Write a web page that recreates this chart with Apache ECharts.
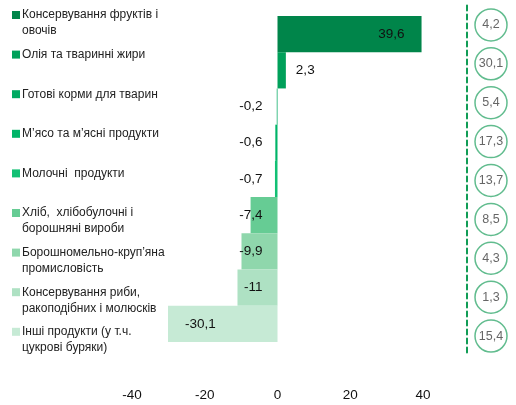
<!DOCTYPE html>
<html>
<head>
<meta charset="utf-8">
<script src="https://cdn.jsdelivr.net/npm/echarts@6/dist/echarts.min.js"></script>
<style>html,body{margin:0;padding:0;background:#fff}#c{width:516px;height:405px}</style>
</head>
<body>
<div id="c"></div>
<script>
const categories = [
  "Консервування фруктів і\nовочів",
  "Олія та тваринні жири",
  "Готові корми для тварин",
  "М’ясо та м’ясні продукти",
  "Молочні  продукти",
  "Хліб,  хлібобулочні і\nборошняні вироби",
  "Борошномельно-круп’яна\nпромисловість",
  "Консервування риби,\nракоподібних і молюсків",
  "Інші продукти (у т.ч.\nцукрові буряки)"
];
const changes = [39.6, 2.3, -0.2, -0.6, -0.7, -7.4, -9.9, -11, -30.1];
const shares = [4.2, 30.1, 5.4, 17.3, 13.7, 8.5, 4.3, 1.3, 15.4];
const xTicks = [-40, -20, 0, 20, 40];

const colors = ['#00854a','#00a05a','#00aa62','#00b468','#12c074','#66cc94','#8fd7ac','#aee1c3','#c6ead5'];
const labelPos = [
  {position:'insideRight', distance:17},
  {position:'right', distance:10},
  {position:'insideRight', distance:15},
  {position:'insideRight', distance:15},
  {position:'insideRight', distance:15},
  {position:'insideRight', distance:15},
  {position:'insideRight', distance:15},
  {position:'insideRight', distance:15},
  {position:'insideLeft', distance:17}
];
const fmt = v => String(v).replace('.', ',');
const FONT = 'Liberation Sans';

const rich = {t:{fontSize:12, fontFamily:FONT, color:'#222', lineHeight:16}, ind:{width:10, height:8, lineHeight:16}, g:{width:2, lineHeight:16}};
colors.forEach((c,i)=>{ rich['s'+i] = {width:8, height:8, backgroundColor:c, lineHeight:16, verticalAlign:'middle'}; });

const series = categories.map((name, i) => ({
  name: name,
  type: 'bar',
  stack: 'all',
  xAxisIndex: 0, yAxisIndex: 0,
  barCategoryGap: '0%',
  itemStyle: {color: colors[i]},
  label: {show:true, position: labelPos[i].position, distance: labelPos[i].distance,
    fontFamily: FONT, fontSize: 13.5, color:'#111', formatter: p => fmt(p.value)},
  data: changes.map((v, j) => j === i ? v : '-')
}));

series.push({
  type: 'scatter',
  xAxisIndex: 1, yAxisIndex: 1,
  symbol: 'circle',
  symbolSize: 32,
  itemStyle: {color:'#fff', borderColor:'#3aab72', borderWidth:1.5},
  label: {show:true, position:'inside', fontFamily: FONT, fontSize:12.5, color:'#404040', formatter: p => fmt(p.value[2])},
  data: shares.map((v, i) => [0, i, v])
});

const chart = echarts.init(document.getElementById('c'), null, {renderer:'canvas'});
chart.setOption({
  animation: false,
  backgroundColor: '#fff',
  legend: {
    orient: 'vertical', left: 7, top: 7, padding: 0, itemGap: 7.6,
    itemWidth: 0, itemHeight: 0, selectedMode: false,
    data: categories,
    formatter: name => {
      const i = categories.indexOf(name);
      const lines = name.split('\n');
      const first = '{s' + i + '|}{g|}{t|' + lines[0] + '}';
      const second = lines[1] ? '{ind|}{t|' + lines[1] + '}' : '{t| }';
      return first + '\n' + second;
    },
    textStyle: {lineHeight:16, rich: rich}
  },
  grid: [
    {left: 132, right: 93, top: 16, bottom: 63},
    {left: 467, width: 48, top: 5.5, height: 350}
  ],
  xAxis: [
    {type:'value', gridIndex:0, min:xTicks[0], max:xTicks[xTicks.length-1], interval:20,
     splitLine:{show:false}, axisLine:{show:false}, axisTick:{show:false},
     axisLabel:{margin:46, fontFamily:FONT, fontSize:13.5, color:'#111'}},
    {type:'category', gridIndex:1, data:[''], show:false}
  ],
  yAxis: [
    {type:'category', gridIndex:0, data:categories, inverse:true, show:false},
    {type:'category', gridIndex:1, data:categories, inverse:true,
     axisLine:{show:true, lineStyle:{color:'#109c55', width:2, type:[5,4]}},
     axisTick:{show:false}, axisLabel:{show:false}, splitLine:{show:false}}
  ],
  series: series
});
</script>
</body>
</html>
